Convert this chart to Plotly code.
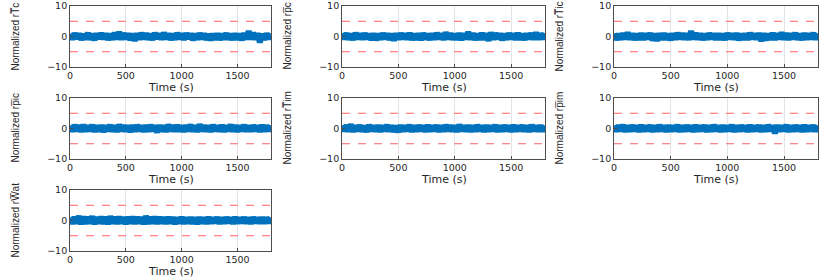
import numpy as np
import plotly.graph_objects as go

# ---- data ----
labels = ["Normalized rT\u0305c", "Normalized rp\u0305c", "Normalized rT\u0305ic",
          "Normalized rp\u0305ic", "Normalized rT\u0305im", "Normalized rp\u0305im",
          "Normalized rW\u0305at"]
x_title = "Time (s)"
x_ticks = [0, 500, 1000, 1500]
y_ticks = [-10, 0, 10]
threshold = 5

s_rTc = [0.9,-1.0,1.1,-0.8,1.0,-1.1,0.8,-0.9,1.2,-1.0,0.9,-1.2,1.0,-0.8,1.1,-0.9,1.0,-1.1,0.9,-1.0,
         1.3,-0.9,1.5,-1.0,1.1,-0.9,1.0,-1.2,0.9,-1.4,1.0,-1.0,1.2,-0.9,1.1,-1.0,0.9,-1.1,1.2,-0.8,
         1.0,-1.0,1.3,-0.9,1.0,-1.1,0.9,-1.0,1.2,-0.9,1.0,-1.1,1.1,-0.8,1.0,-1.2,0.9,-1.0,1.1,-0.9,
         1.0,-1.1,0.8,-1.2,0.9,-1.0,1.0,-1.1,0.9,-0.9,1.1,-1.0,0.9,-1.1,1.0,-1.0,0.9,-1.2,1.1,-1.0,
         1.8,-0.9,1.3,-1.0,1.1,-2.0,0.9,-1.1,1.0,-0.9,1.0]
s_rpc = [1.0,-0.9,1.1,-1.0,0.9,-1.1,1.2,-0.9,1.0,-1.0,1.1,-0.8,0.9,-1.1,1.0,-1.2,0.9,-1.0,1.1,-0.9,
         1.0,-1.1,0.9,-1.3,1.0,-1.0,1.1,-0.9,1.0,-1.0,1.2,-1.1,0.9,-1.0,1.0,-1.2,1.1,-0.9,0.9,-1.1,
         1.0,-1.0,1.2,-0.9,1.0,-1.1,1.4,-0.9,1.1,-1.0,0.9,-1.0,1.1,-1.2,1.0,-0.9,1.5,-1.0,1.1,-1.1,
         0.9,-1.0,1.2,-1.1,1.0,-1.4,1.3,-1.0,1.1,-0.9,1.0,-1.2,0.9,-1.0,1.1,-0.9,1.0,-1.1,1.2,-1.0,
         0.9,-1.1,1.0,-0.9,1.1,-1.0,1.3,-1.0,1.0,-0.9,1.1]
s_rTic = [1.0,-1.1,0.9,-1.0,1.1,-0.9,1.3,-1.0,1.0,-1.1,0.9,-1.0,1.1,-1.1,1.0,-0.9,1.1,-1.3,0.9,-1.4,
          1.0,-1.1,1.1,-1.0,0.9,-1.2,1.0,-1.0,1.2,-0.9,1.1,-1.0,1.0,-1.1,1.8,-0.9,1.2,-1.0,1.0,-1.1,
          0.9,-1.0,1.1,-0.9,1.0,-1.1,1.0,-1.0,0.9,-1.1,1.1,-0.9,1.0,-1.0,1.1,-1.2,0.9,-1.0,1.0,-1.1,
          1.2,-0.9,1.0,-1.0,1.1,-1.5,1.0,-1.2,0.9,-1.0,1.2,-1.1,1.0,-0.9,1.3,-1.0,1.1,-1.1,1.0,-0.9,
          1.2,-1.0,0.9,-1.1,1.1,-1.0,1.0,-0.9,1.2,-1.0,1.0]
s_rpic = [1.0,-1.0,1.2,-0.9,1.1,-1.1,1.3,-1.0,1.0,-0.9,1.2,-1.1,1.0,-1.0,1.1,-1.2,1.0,-0.9,1.2,-1.0,
          1.0,-1.1,1.3,-0.9,1.1,-1.0,1.0,-1.2,1.1,-1.0,1.2,-0.9,1.0,-1.1,1.1,-1.0,1.2,-0.9,1.0,-1.3,
          1.1,-1.0,1.0,-1.1,1.3,-0.9,1.1,-1.0,1.2,-1.0,1.0,-1.1,1.1,-0.9,1.3,-1.0,1.0,-1.1,1.4,-0.9,
          1.1,-1.0,1.0,-1.1,1.2,-0.9,1.0,-1.0,1.2,-1.1,1.0,-0.9,1.3,-1.0,1.1,-1.1,1.0,-0.9,1.2,-1.0,
          1.0,-1.0,1.1,-0.9,1.0,-1.1,1.2,-1.0,1.0,-0.9,1.0]
s_rTim = [1.0,-0.9,1.1,-1.0,1.4,-1.1,1.0,-0.9,1.1,-1.0,0.9,-1.1,1.2,-0.9,1.0,-1.0,1.1,-1.1,1.0,-0.9,
          1.2,-1.0,1.0,-1.1,0.9,-1.2,1.1,-1.0,1.0,-0.9,1.2,-1.1,1.0,-1.0,1.1,-0.9,1.0,-1.1,1.2,-1.0,
          1.0,-0.9,1.1,-1.1,1.0,-1.0,1.2,-0.9,1.1,-1.0,1.0,-1.1,1.3,-0.9,1.0,-1.0,1.1,-1.1,1.0,-1.0,
          1.2,-0.9,1.0,-1.1,1.1,-1.0,1.0,-0.9,1.2,-1.1,1.0,-1.0,1.1,-0.9,1.0,-1.1,1.2,-1.0,1.0,-0.9,
          1.1,-1.0,1.0,-1.1,1.2,-0.9,1.0,-1.0,1.1,-1.0,1.0]
s_rpim = [1.0,-1.0,1.1,-0.9,1.2,-1.1,1.0,-1.0,1.1,-0.9,1.0,-1.1,1.2,-1.0,1.0,-0.9,1.1,-1.1,1.0,-1.0,
          1.2,-0.9,1.0,-1.1,1.1,-1.0,1.0,-0.9,1.2,-1.1,1.0,-1.0,1.1,-0.9,1.0,-1.1,1.2,-1.0,1.0,-0.9,
          1.1,-1.1,1.0,-1.0,1.2,-0.9,1.0,-1.1,1.1,-1.0,1.0,-0.9,1.2,-1.1,1.0,-1.0,1.1,-0.9,1.0,-1.1,
          1.2,-1.0,1.0,-0.9,1.1,-1.1,1.0,-1.0,1.2,-0.9,1.0,-1.6,1.1,-1.0,1.0,-0.9,1.2,-1.1,1.0,-1.0,
          1.1,-0.9,1.0,-1.1,1.2,-1.0,1.0,-0.9,1.1,-1.0,1.0]
s_rWat = [1.0,-1.1,1.2,-1.0,1.5,-1.2,1.3,-1.1,1.2,-1.0,1.4,-1.2,1.1,-1.0,1.3,-1.1,1.2,-1.2,1.4,-1.0,
          1.2,-1.1,1.3,-1.0,1.1,-1.2,1.2,-1.0,1.3,-1.1,1.2,-1.0,1.1,-1.2,1.5,-1.1,1.2,-1.0,1.3,-1.1,
          1.2,-1.0,1.1,-1.1,1.2,-1.0,1.1,-1.2,1.0,-1.0,1.2,-1.1,1.0,-1.0,1.1,-1.1,1.0,-1.2,1.1,-1.0,
          1.0,-1.1,1.2,-1.0,1.0,-0.9,1.1,-1.1,1.0,-1.0,1.1,-0.9,1.0,-1.1,1.2,-1.0,1.0,-0.9,1.1,-1.0,
          1.0,-1.1,1.1,-0.9,1.0,-1.0,1.1,-1.0,1.0,-0.9,1.0]
series = [s_rTc, s_rpc, s_rTic, s_rpic, s_rTim, s_rpim, s_rWat]
t_end = 1800

# ---- layout (pixel boxes) ----
W, H = 831, 277
cols_px = [(70, 271), (342, 545), (614, 818)]
rows_px = [(6, 67), (98, 159), (190, 251)]

def px_x(v):
    return v / W

def px_y(v):
    return 1 - v / H

fig = go.Figure()
tick_font = "DejaVu Sans, sans-serif"
lab_font = "Liberation Sans, Arial, sans-serif"
annotations = []

for i, (lab, s) in enumerate(zip(labels, series)):
    r, c = divmod(i, 3)
    n = i + 1
    xa = "x" if n == 1 else f"x{n}"
    ya = "y" if n == 1 else f"y{n}"
    t = np.linspace(0, t_end, len(s))
    fig.add_trace(go.Scatter(x=t, y=s, mode="lines", xaxis=xa, yaxis=ya,
                             line=dict(color="#0072BD", width=6), showlegend=False))
    for thr in (threshold, -threshold):
        fig.add_trace(go.Scatter(x=[0, t_end], y=[thr, thr], mode="lines", xaxis=xa, yaxis=ya,
                                 line=dict(color="#FF6060", width=1.2, dash="8px,8px"),
                                 showlegend=False))
    x0, x1 = cols_px[c]
    y0, y1 = rows_px[r]
    common = dict(showline=True, linecolor="#4D4D4D", linewidth=0.8, mirror=True,
                  ticks="inside", ticklen=3, tickcolor="#4D4D4D",
                  tickfont=dict(family=tick_font, size=9.5, color="#262626"),
                  zeroline=False, automargin=False)
    fig.layout[("xaxis" if n == 1 else f"xaxis{n}")] = dict(
        domain=[px_x(x0), px_x(x1)], anchor=ya, range=[0, t_end], tickvals=x_ticks,
        showgrid=True, gridcolor="#E3E3E3", gridwidth=1, **common)
    fig.layout[("yaxis" if n == 1 else f"yaxis{n}")] = dict(
        domain=[px_y(y1), px_y(y0)], anchor=xa, range=[-10, 10], tickvals=y_ticks,
        showgrid=False, **common)
    annotations.append(dict(text=x_title, xref="paper", yref="paper",
                            x=px_x((x0 + x1) / 2), y=px_y(y1 + 20),
                            xanchor="center", yanchor="middle", showarrow=False,
                            font=dict(family=tick_font, size=11, color="#262626")))
    annotations.append(dict(text=lab, xref="paper", yref="paper",
                            x=px_x(x0 - 55), y=px_y((y0 + y1) / 2),
                            xanchor="center", yanchor="middle", showarrow=False, textangle=-90,
                            font=dict(family=lab_font, size=10, color="#262626")))

fig.update_layout(width=W, height=H, margin=dict(l=0, r=0, t=0, b=0),
                  paper_bgcolor="white", plot_bgcolor="white", annotations=annotations)
fig.write_html("out.html", config={"displayModeBar": False},
               post_script="document.body.style.margin='0px';document.body.style.overflow='hidden';")
